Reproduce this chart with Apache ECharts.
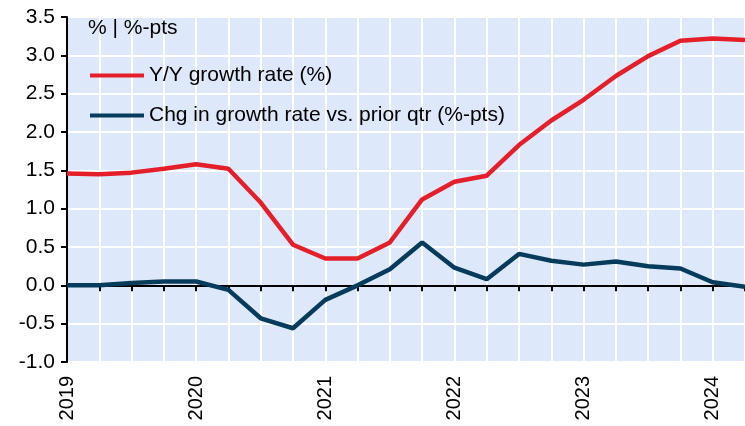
<!DOCTYPE html>
<html>
<head>
<meta charset="utf-8">
<script src="https://cdn.jsdelivr.net/npm/echarts@6/dist/echarts.min.js"></script>
<style>
  html, body { margin: 0; padding: 0; background: #fff; }
  #chart { width: 745px; height: 426px; }
</style>
</head>
<body>
<div id="chart"></div>
<script>
"use strict";

// quarters, 2019Q1 .. 2024Q2
const quarters = [
  2019, 2019.25, 2019.5, 2019.75,
  2020, 2020.25, 2020.5, 2020.75,
  2021, 2021.25, 2021.5, 2021.75,
  2022, 2022.25, 2022.5, 2022.75,
  2023, 2023.25, 2023.5, 2023.75,
  2024, 2024.25
];
// Y/Y growth rate (%)
const yoyGrowth = [
  1.46, 1.45, 1.47, 1.52,
  1.58, 1.52, 1.08, 0.53,
  0.35, 0.35, 0.56, 1.12,
  1.35, 1.43, 1.83, 2.15,
  2.42, 2.73, 2.99, 3.19,
  3.22, 3.20
];
// change vs. prior quarter (%-pts)
const chgGrowth = [
  0.00, 0.00, 0.03, 0.05,
  0.05, -0.06, -0.43, -0.56,
  -0.19, 0.00, 0.21, 0.56,
  0.23, 0.08, 0.41, 0.32,
  0.27, 0.31, 0.25, 0.22,
  0.04, -0.02
];
const seriesNames = ["Y/Y growth rate (%)", "Chg in growth rate vs. prior qtr (%-pts)"];

const FONT = "Liberation Sans, Arial, sans-serif";
const RED = '#e41f2a';
const NAVY = '#073b5b';

let myChart = echarts.init(document.getElementById('chart'));

function pairs(ys) {
  return quarters.map(function (q, i) { return [q, ys[i]]; });
}

let option = {
  animation: false,
  title: { // unit note
    text: "% | %-pts",
    left: 83,
    top: 13,
    textStyle: { fontFamily: FONT, fontSize: 21, fontWeight: 'normal', color: '#000' },
  },
  legend: {
    orient: 'vertical',
    left: 85,
    top: 59,
    itemGap: 17,
    itemWidth: 54,
    itemHeight: 4,
    icon: 'rect',
    textStyle: { fontFamily: FONT, fontSize: 21, color: '#000', lineHeight: 23 },
    data: seriesNames,
  },
  grid: {
    left: 67,
    top: 17,
    right: -4.5,
    bottom: 64,
    show: true,
    backgroundColor: '#dde9fa',
    borderWidth: 0,
  },
  xAxis: [
    { // year labels at the bottom
      type: 'value',
      min: 2019,
      max: 2024.25,
      interval: 0.25,
      position: 'bottom',
      axisLine: { show: false, onZero: false },
      axisTick: { show: false },
      axisLabel: {
        rotate: 90,
        margin: 14,
        fontFamily: FONT,
        fontSize: 20,
        color: '#000',
        showMaxLabel: false,
        formatter: function (v) {
          return Number.isInteger(v) ? String(v) : '';
        },
      },
      splitLine: { show: true, lineStyle: { color: '#fff', width: 2 } },
    },
    { // zero line with quarter ticks
      type: 'value',
      min: 2019,
      max: 2024.25,
      interval: 0.25,
      position: 'top',
      axisLine: { show: true, onZero: true, lineStyle: { color: '#000', width: 2 } },
      axisTick: { show: true, inside: true, length: 6, lineStyle: { color: '#000', width: 2 } },
      axisLabel: { show: false },
      splitLine: { show: false },
    },
  ],
  yAxis: {
    type: 'value',
    min: -1,
    max: 3.5,
    interval: 0.5,
    axisLine: { show: true, onZero: false, lineStyle: { color: '#000', width: 2 } },
    axisTick: { show: true, length: 6, lineStyle: { color: '#000', width: 2 } },
    axisLabel: {
      margin: 12,
      fontFamily: FONT,
      fontSize: 21,
      color: '#000',
      formatter: function (v) { return v.toFixed(1); },
    },
    splitLine: { show: true, lineStyle: { color: '#fff', width: 2 } },
  },
  series: [
    {
      name: seriesNames[0],
      type: 'line',
      data: pairs(yoyGrowth),
      symbol: 'none',
      itemStyle: { color: RED },
      lineStyle: { color: RED, width: 4.5 },
      z: 3,
    },
    {
      name: seriesNames[1],
      type: 'line',
      data: pairs(chgGrowth),
      symbol: 'none',
      itemStyle: { color: NAVY },
      lineStyle: { color: NAVY, width: 4.5 },
      z: 4,
    },
  ],
};

myChart.setOption(option);
</script>
</body>
</html>
